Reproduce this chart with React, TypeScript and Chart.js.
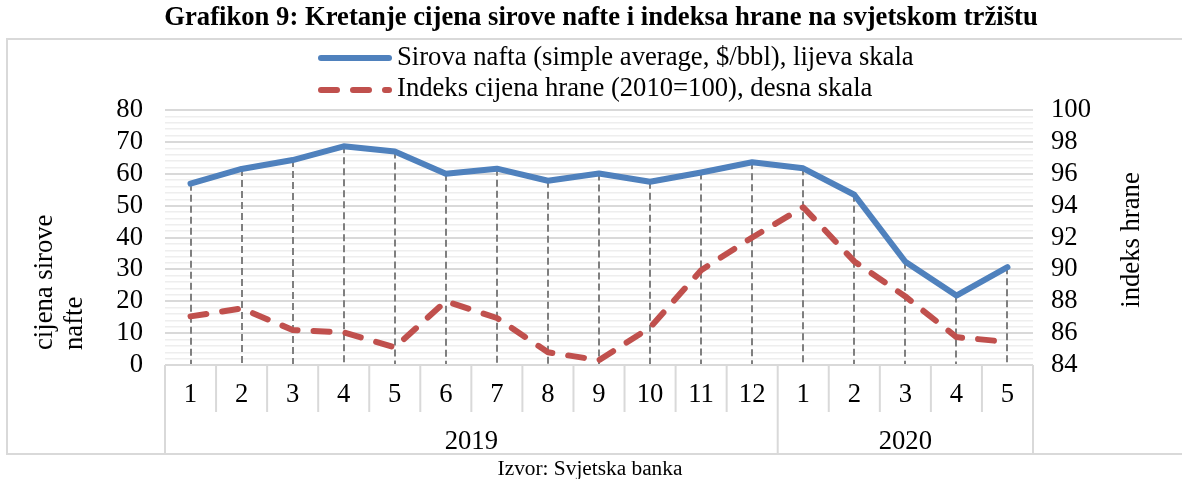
import React, { useEffect, useRef } from "react";
import { Chart, registerables } from "chart.js";

Chart.register(...registerables);

const months = ["1", "2", "3", "4", "5", "6", "7", "8", "9", "10", "11", "12", "1", "2", "3", "4", "5"];
const years = ["2019", "2020"];
const yearSpans = [12, 5];
const oilPrice = [56.9, 61.5, 64.3, 68.6, 67.0, 60.0, 61.6, 57.8, 60.1, 57.5, 60.4, 63.6, 61.7, 53.4, 32.4, 21.8, 30.7];
const foodIndex = [87.05, 87.55, 86.2, 86.05, 85.1, 88.0, 86.95, 84.8, 84.3, 86.35, 89.95, 92.0, 93.9, 90.5, 88.3, 85.75, 85.45];

const titleText = "Grafikon 9: Kretanje cijena sirove nafte i indeksa hrane na svjetskom tržištu";
const oilLabel = "Sirova nafta (simple average, $/bbl), lijeva skala";
const foodLabel = "Indeks cijena hrane (2010=100), desna skala";
const leftTitle = ["cijena sirove", "nafte"];
const rightTitle = "indeks hrane";
const sourceText = "Izvor: Svjetska banka";

const SERIF = "'Liberation Serif', 'Times New Roman', serif";
const BLUE = "#4f81bd";
const RED = "#c0504d";
const FS = 26.67;

export default function App() {
  const ref = useRef<HTMLCanvasElement>(null);

  useEffect(() => {
    document.body.style.margin = "0";
    const canvas = ref.current;
    if (!canvas) return;

    const decor = {
      id: "decor",
      beforeDraw(chart: any) {
        const { ctx } = chart;
        ctx.save();
        ctx.fillStyle = "#ffffff";
        ctx.fillRect(0, 0, chart.width, chart.height);
        // outer frame
        ctx.strokeStyle = "#d9d9d9";
        ctx.lineWidth = 2;
        ctx.strokeRect(7, 39, chart.width + 20, 415);
        // title
        ctx.fillStyle = "#000";
        ctx.font = `bold ${FS}px ${SERIF}`;
        ctx.textAlign = "center";
        ctx.textBaseline = "middle";
        ctx.fillText(titleText, 601, 18);
        // legend
        ctx.lineCap = "round";
        ctx.lineWidth = 6;
        ctx.strokeStyle = BLUE;
        ctx.beginPath();
        ctx.moveTo(321, 58);
        ctx.lineTo(389, 58);
        ctx.stroke();
        ctx.strokeStyle = RED;
        ctx.setLineDash([16, 16]);
        ctx.beginPath();
        ctx.moveTo(321, 90);
        ctx.lineTo(389, 90);
        ctx.stroke();
        ctx.setLineDash([]);
        ctx.font = `${FS}px ${SERIF}`;
        ctx.textAlign = "left";
        ctx.fillText(oilLabel, 397, 58);
        ctx.fillText(foodLabel, 397, 89);
        // axis titles
        ctx.save();
        ctx.translate(52, 350);
        ctx.rotate(-Math.PI / 2);
        ctx.textAlign = "left";
        ctx.textBaseline = "alphabetic";
        ctx.fillText(leftTitle[0], 0, 0);
        ctx.fillText(leftTitle[1], 0, 30);
        ctx.restore();
        ctx.save();
        ctx.translate(1139, 240);
        ctx.rotate(-Math.PI / 2);
        ctx.textAlign = "center";
        ctx.textBaseline = "alphabetic";
        ctx.fillText(rightTitle, 0, 0);
        ctx.restore();
        // source
        ctx.font = `${21.33}px ${SERIF}`;
        ctx.textAlign = "center";
        ctx.textBaseline = "middle";
        ctx.fillText(sourceText, 590, 469);
        ctx.restore();
      },
      beforeDatasetsDraw(chart: any) {
        const { ctx, chartArea: a, scales } = chart;
        ctx.save();
        ctx.strokeStyle = "#7f7f7f";
        ctx.lineWidth = 2;
        ctx.setLineDash([7, 4]);
        oilPrice.forEach((v, i) => {
          const x = scales.x.getPixelForValue(i);
          const y = Math.min(scales.y.getPixelForValue(v), scales.y1.getPixelForValue(foodIndex[i]));
          ctx.beginPath();
          ctx.moveTo(Math.round(x), y);
          ctx.lineTo(Math.round(x), a.bottom);
          ctx.stroke();
        });
        ctx.restore();
      },
      afterDraw(chart: any) {
        const { ctx, chartArea: a } = chart;
        const n = months.length;
        const w = (a.right - a.left) / n;
        ctx.save();
        ctx.strokeStyle = "#d9d9d9";
        ctx.lineWidth = 2;
        ctx.beginPath();
        ctx.moveTo(a.left, a.bottom);
        ctx.lineTo(a.right, a.bottom);
        ctx.stroke();
        const yearBounds = new Set<number>([0]);
        let acc = 0;
        yearSpans.forEach((s) => {
          acc += s;
          yearBounds.add(acc);
        });
        for (let i = 0; i <= n; i++) {
          const x = a.left + i * w;
          ctx.beginPath();
          ctx.moveTo(x, a.bottom);
          ctx.lineTo(x, yearBounds.has(i) ? 454 : a.bottom + 47);
          ctx.stroke();
        }
        ctx.fillStyle = "#000";
        ctx.font = `${FS}px ${SERIF}`;
        ctx.textAlign = "center";
        ctx.textBaseline = "middle";
        let start = 0;
        years.forEach((yr, k) => {
          const x0 = a.left + start * w;
          const x1 = a.left + (start + yearSpans[k]) * w;
          ctx.fillText(yr, (x0 + x1) / 2, 442);
          start += yearSpans[k];
        });
        ctx.restore();
      },
    };

    const tickFont = { family: SERIF, size: FS };

    const chart = new Chart(canvas, {
      type: "line",
      data: {
        labels: months,
        datasets: [
          {
            label: oilLabel,
            data: oilPrice,
            yAxisID: "y",
            borderColor: BLUE,
            backgroundColor: BLUE,
            borderWidth: 6,
            pointRadius: 0,
            tension: 0,
            borderCapStyle: "round",
            borderJoinStyle: "round",
          },
          {
            label: foodLabel,
            data: foodIndex,
            yAxisID: "y1",
            borderColor: RED,
            backgroundColor: RED,
            borderWidth: 6,
            borderDash: [16, 16],
            pointRadius: 0,
            tension: 0,
            borderCapStyle: "round",
            borderJoinStyle: "round",
          },
        ],
      },
      options: {
        responsive: false,
        animation: false,
        devicePixelRatio: 1,
        layout: { padding: { top: 110, left: 0, right: 0, bottom: 0 } },
        plugins: {
          legend: { display: false },
          title: { display: false },
          tooltip: { enabled: false },
        },
        scales: {
          x: {
            type: "category",
            offset: true,
            grid: { display: false, drawTicks: false },
            border: { display: false },
            ticks: { font: tickFont, color: "#000", padding: 14, maxRotation: 0, autoSkip: false },
            afterFit: (s: any) => {
              s.height = 114;
            },
          },
          y: {
            position: "left",
            min: 0,
            max: 80,
            ticks: {
              stepSize: 2,
              autoSkip: false,
              padding: 22,
              font: tickFont,
              color: "#000",
              callback: (v: any) => (Number(v) % 10 === 0 ? String(v) : ""),
            },
            grid: {
              drawTicks: false,
              color: (c: any) => (c.tick && c.tick.value % 10 === 0 ? "#d9d9d9" : "#eeeeee"),
              lineWidth: (c: any) => (c.tick && c.tick.value % 10 === 0 ? 2 : 1.5),
            },
            border: { display: false },
            afterFit: (s: any) => {
              s.width = 165;
            },
          },
          y1: {
            position: "right",
            min: 84,
            max: 100,
            ticks: { stepSize: 2, autoSkip: false, padding: 18, font: tickFont, color: "#000" },
            grid: { drawOnChartArea: false, drawTicks: false },
            border: { display: false },
            afterFit: (s: any) => {
              s.width = 149;
            },
          },
        },
      },
      plugins: [decor],
    } as any);

    return () => chart.destroy();
  }, []);

  return (
    <div style={{ width: 1182, height: 479 }}>
      <canvas ref={ref} width={1182} height={479} style={{ display: "block" }} />
    </div>
  );
}
